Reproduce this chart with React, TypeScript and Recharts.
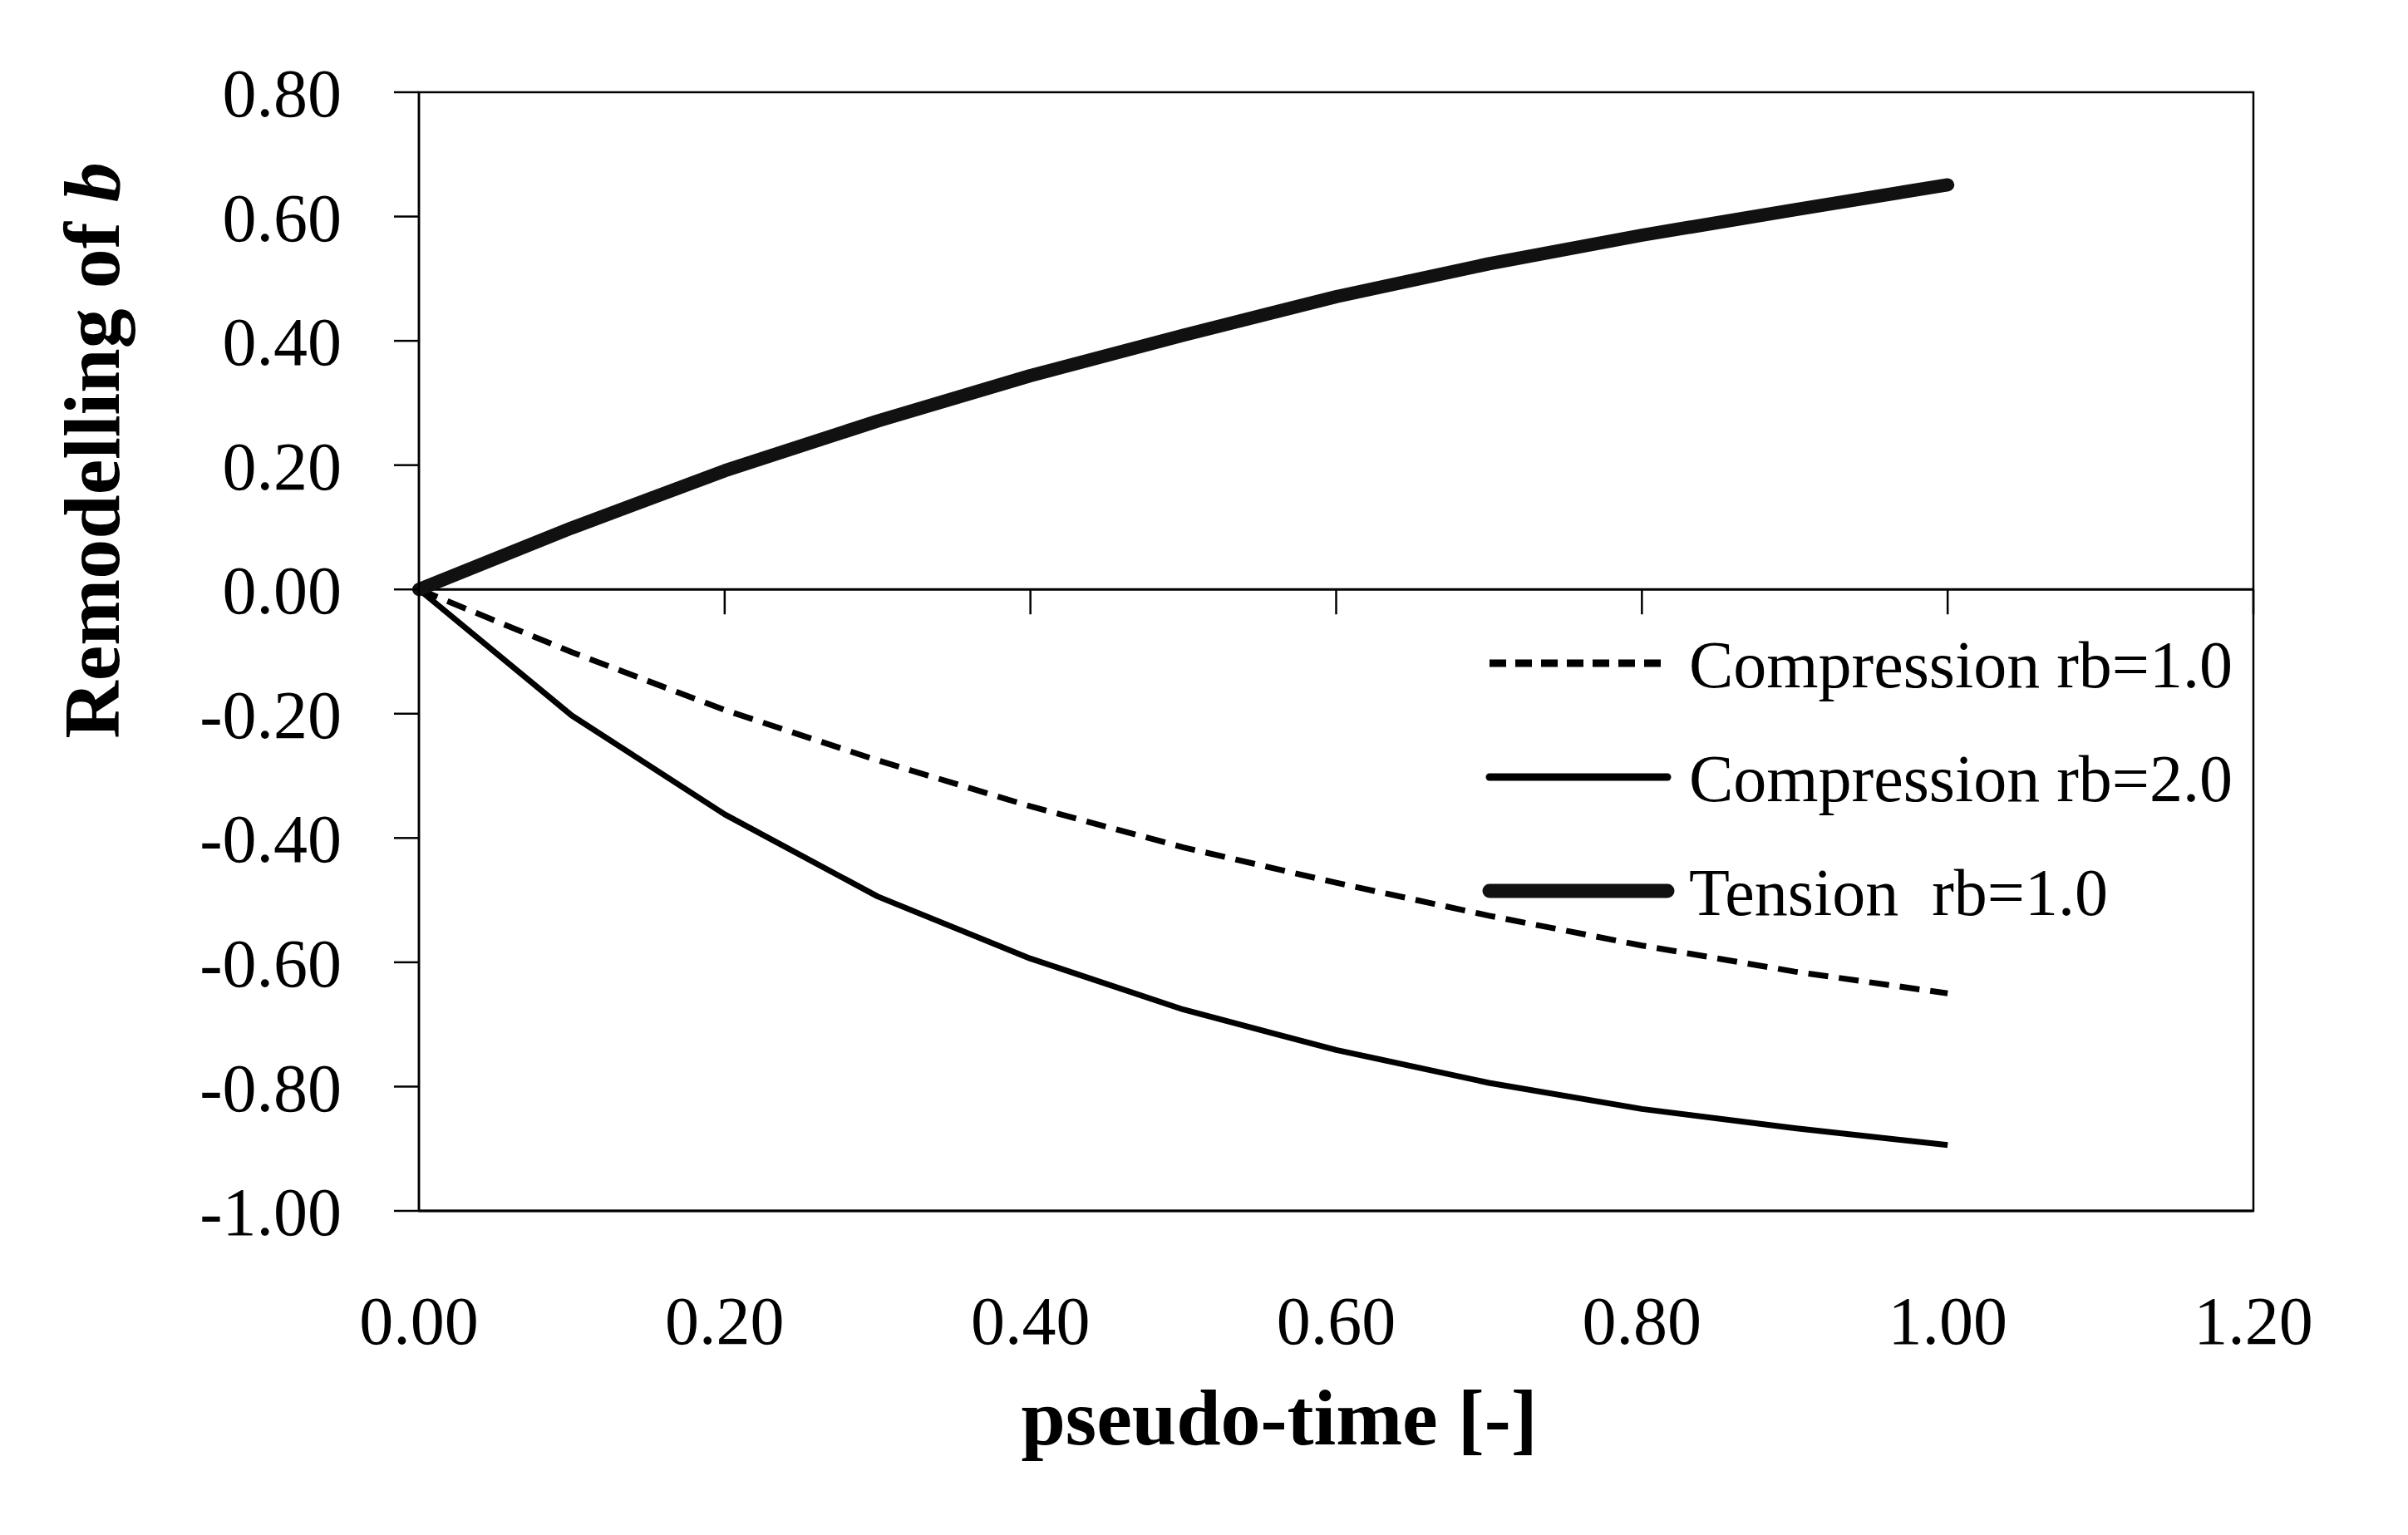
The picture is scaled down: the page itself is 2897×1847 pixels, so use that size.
import { LineChart, Line, XAxis, YAxis, ReferenceLine, ReferenceArea, Legend, Label } from "recharts";

const FONT = "'Liberation Serif', 'DejaVu Serif', serif";

// pseudo-time steps
const pseudoTime = [0, 0.1, 0.2, 0.3, 0.4, 0.5, 0.6, 0.7, 0.8, 0.9, 1.0];

// remodelling of b per load case
const compressionRb1 = [0, -0.101, -0.194, -0.275, -0.349, -0.415, -0.472, -0.525, -0.573, -0.615, -0.65];
const compressionRb2 = [0, -0.203, -0.362, -0.494, -0.594, -0.676, -0.741, -0.794, -0.836, -0.867, -0.894];
const tensionRb1 = [0, 0.099, 0.191, 0.271, 0.344, 0.409, 0.471, 0.524, 0.57, 0.611, 0.651];

const xTicks = [0, 0.2, 0.4, 0.6, 0.8, 1.0, 1.2];
const yTicks = [-1, -0.8, -0.6, -0.4, -0.2, 0, 0.2, 0.4, 0.6, 0.8];
const seriesNames = ["Compression rb=1.0", "Compression rb=2.0", "Tension  rb=1.0"];

const data = pseudoTime.map((t, i) => ({
  t,
  c1: compressionRb1[i],
  c2: compressionRb2[i],
  tn: tensionRb1[i],
}));

const styles = [
  { width: 7, dash: "24 13", color: "#000" },
  { width: 7, dash: undefined, color: "#000" },
  { width: 16, dash: undefined, color: "#111" },
];

const W = 2880;
const H = 1830;
const plotHeight = 1346;
const tickLen = (30 / plotHeight) * 1.8; // 30px in y units

function LegendBox() {
  return (
    <svg width={960} height={360} style={{ overflow: "visible" }}>
      {seriesNames.map((name, i) => {
        const cy = 40 + 137 * i;
        return (
          <g key={name}>
            <line
              x1={8}
              x2={222}
              y1={cy}
              y2={cy}
              stroke={styles[i].color}
              strokeWidth={i === 2 ? 17 : 9}
              strokeDasharray={i === 0 ? "20 11" : undefined}
              strokeLinecap={i === 0 ? "butt" : "round"}
            />
            <text x={248} y={cy + 29} fontSize={80} fontFamily={FONT} fill="#000" style={{ whiteSpace: "pre" }}>
              {name}
            </text>
          </g>
        );
      })}
    </svg>
  );
}

export default function App() {
  return (
    <LineChart width={W} height={H} data={data} margin={{ top: 103, right: 177, bottom: 81, left: 0 }}>
      <ReferenceArea x1={0} x2={1.2} y1={-1} y2={0.8} fill="none" stroke="#000" strokeWidth={2.5} />
      <ReferenceLine y={0} stroke="#000" strokeWidth={3} />
      {xTicks.slice(1).map((x) => (
        <ReferenceLine
          key={x}
          segment={[
            { x, y: 0 },
            { x, y: -tickLen },
          ]}
          stroke="#000"
          strokeWidth={2.5}
        />
      ))}
      <XAxis
        type="number"
        dataKey="t"
        domain={[0, 1.2]}
        ticks={xTicks}
        height={300}
        tickLine={false}
        tickSize={0}
        tickMargin={102}
        axisLine={{ stroke: "#000", strokeWidth: 3 }}
        tick={{ fill: "#000", fontSize: 82, fontFamily: FONT }}
        tickFormatter={(v) => v.toFixed(2)}
      >
        <Label
          content={({ viewBox }: any) => (
            <text
              x={viewBox.x + 1035}
              y={viewBox.y + 281}
              textAnchor="middle"
              fontSize={96}
              fontWeight="bold"
              fontFamily={FONT}
              fill="#000"
            >
              pseudo-time [-]
            </text>
          )}
        />
      </XAxis>
      <YAxis
        type="number"
        domain={[-1, 0.8]}
        ticks={yTicks}
        width={496}
        tickSize={30}
        tickMargin={63}
        tickLine={{ stroke: "#000", strokeWidth: 2.5 }}
        axisLine={{ stroke: "#000", strokeWidth: 2.5 }}
        tick={{ fill: "#000", fontSize: 82, fontFamily: FONT }}
        tickFormatter={(v) => v.toFixed(2)}
      >
        <Label
          content={() => (
            <text
              x={135}
              y={534}
              transform="rotate(-90 135 534)"
              textAnchor="middle"
              fontSize={96}
              fontWeight="bold"
              fontFamily={FONT}
              fill="#000"
            >
              Remodelling of <tspan fontStyle="italic">b</tspan>
            </text>
          )}
        />
      </YAxis>
      <Legend
        layout="horizontal"
        verticalAlign="middle"
        content={() => <LegendBox />}
        wrapperStyle={{ position: "absolute", left: 1776, top: 750, width: 960, height: 360 }}
      />
      <Line
        type="linear"
        dataKey="c1"
        name={seriesNames[0]}
        stroke={styles[0].color}
        strokeWidth={styles[0].width}
        strokeDasharray={styles[0].dash}
        dot={false}
        isAnimationActive={false}
      />
      <Line
        type="linear"
        dataKey="c2"
        name={seriesNames[1]}
        stroke={styles[1].color}
        strokeWidth={styles[1].width}
        strokeLinejoin="round"
        dot={false}
        isAnimationActive={false}
      />
      <Line
        type="linear"
        dataKey="tn"
        name={seriesNames[2]}
        stroke={styles[2].color}
        strokeWidth={styles[2].width}
        strokeLinejoin="round"
        strokeLinecap="round"
        dot={false}
        isAnimationActive={false}
      />
    </LineChart>
  );
}
